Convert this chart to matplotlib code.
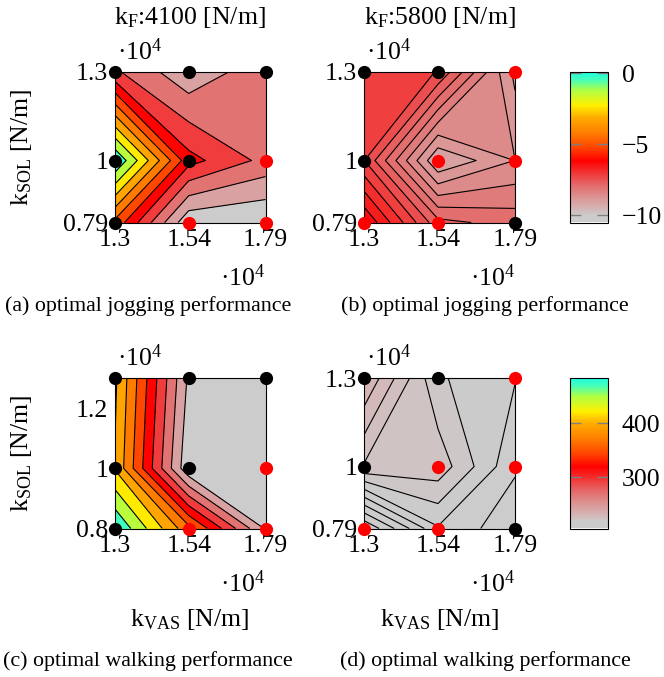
import numpy as np
import matplotlib
matplotlib.use("Agg")
import matplotlib.pyplot as plt
from matplotlib.colors import LinearSegmentedColormap, Normalize
from matplotlib.cm import ScalarMappable

plt.rcParams['font.family'] = ['Liberation Serif', 'DejaVu Serif']
plt.rcParams['mathtext.fontset'] = 'custom'
plt.rcParams['mathtext.rm'] = 'Liberation Serif'
plt.rcParams['mathtext.it'] = 'Liberation Serif:italic'
plt.rcParams['contour.negative_linestyle'] = 'solid'

# grid values (units of 1e4 N/m)
k_vas = [1.3, 1.54, 1.79]
k_sol = [0.79, 1.0, 1.3]
k_sol_c = [0.8, 1.0, 1.3]

# performance, rows = k_sol (bottom -> top), cols = k_vas
jog_4100 = [[-5.0, -10.3, -10.5],
            [0.1, -6.3, -7.9],
            [-7.45, -9.3, -7.9]]
jog_5800 = [[-6.2, -7.75, -7.95],
            [-7.28, -9.2, -8.65],
            [-7.1, -7.3, -9.0]]
walk_4100 = [[483, 365, 228],
             [405, 210, 205.5],
             [412, 226, 206]]
walk_5800 = [[205.6, 217.4, 213.5],
             [224.6, 224.0, 215.6],
             [232.1, 220.4, 217.8]]

# marker colours at the grid points (k = black, r = red)
dots_a = [['k', 'r', 'r'], ['k', 'k', 'r'], ['k', 'k', 'k']]
dots_b = [['r', 'r', 'k'], ['k', 'r', 'r'], ['k', 'k', 'r']]
dots_c = [['k', 'r', 'r'], ['k', 'k', 'r'], ['k', 'k', 'k']]
dots_d = [['r', 'r', 'k'], ['k', 'r', 'r'], ['k', 'k', 'r']]

cmap = LinearSegmentedColormap.from_list('perf', [
    (0.00, (204/255, 204/255, 204/255)),
    (0.045, (204/255, 204/255, 204/255)),
    (0.10, (214/255, 176/255, 176/255)),
    (0.15, (218/255, 155/255, 155/255)),
    (0.25, (228/255, 104/255, 104/255)),
    (0.33, (242/255, 52/255, 52/255)),
    (0.41, (1.0, 0.0, 0.0)),
    (0.50, (1.0, 70/255, 0.0)),
    (0.60, (1.0, 128/255, 0.0)),
    (0.70, (1.0, 172/255, 0.0)),
    (0.78, (1.0, 240/255, 0.0)),
    (0.88, (175/255, 1.0, 70/255)),
    (0.95, (70/255, 1.0, 185/255)),
    (1.00, (30/255, 1.0, 225/255))])

norm_top = Normalize(-10.5, 0.1)
norm_bot = Normalize(205.5, 483)

W, H = 664, 677
fig = plt.figure(figsize=(W/100, H/100), dpi=100)

def rect(x0, y0, x1, y1):
    return [x0/W, 1 - y1/H, (x1 - x0)/W, (y1 - y0)/H]

def txt(x, y, s, **kw):
    fig.text(x/W, 1 - y/H, s, **kw)

FS = 18.5
CFS = 15.8

def panel(r, ys, z, dots, norm, yticks, ylabels):
    ax = fig.add_axes(rect(*r))
    X, Y = np.meshgrid(k_vas, ys)
    Z = np.array(z, dtype=float)
    lv = np.linspace(Z.min(), Z.max(), 12)
    lv[0] -= 1e-6
    lv[-1] += 1e-6
    ax.contourf(X, Y, Z, levels=lv, cmap=cmap, norm=norm)
    ax.contour(X, Y, Z, levels=lv[1:-1], colors='k', linewidths=0.8,
               linestyles='solid')
    for i, yv in enumerate(ys):
        for j, xv in enumerate(k_vas):
            c = 'black' if dots[i][j] == 'k' else 'red'
            ax.plot(xv, yv, 'o', color=c, ms=9.5, mec='none', clip_on=False, zorder=6)
    ax.set_xlim(k_vas[0], k_vas[-1])
    ax.set_ylim(ys[0], ys[-1])
    ax.set_xticks(k_vas)
    ax.set_xticklabels(['1.3', '1.54', '1.79'])
    ax.set_yticks(yticks)
    ax.set_yticklabels(ylabels)
    ax.tick_params(length=0, labelsize=FS, pad=5)
    for s in ax.spines.values():
        s.set_linewidth(0.8)
    return ax

panel((115, 72, 265.5, 222.5), k_sol, jog_4100, dots_a, norm_top,
      [0.79, 1.0, 1.3], ['0.79', '1', '1.3'])
panel((364, 72, 515, 222.5), k_sol, jog_5800, dots_b, norm_top,
      [0.79, 1.0, 1.3], ['0.79', '1', '1.3'])
panel((115, 378, 265.5, 528.5), k_sol_c, walk_4100, dots_c, norm_bot,
      [0.8, 1.0, 1.2], ['0.8', '1', '1.2'])
panel((364, 378, 515, 528.5), k_sol, walk_5800, dots_d, norm_bot,
      [0.79, 1.0, 1.3], ['0.79', '1', '1.3'])

# colorbars
for r, norm, ticks in [((570, 72, 608, 222.5), norm_top, [-10, -5, 0]),
                       ((570, 378, 608, 528.5), norm_bot, [300, 400])]:
    cax = fig.add_axes(rect(*r))
    cb = fig.colorbar(ScalarMappable(norm=norm, cmap=cmap), cax=cax, ticks=ticks)
    cb.outline.set_linewidth(0.8)
    cax.tick_params(direction='in', left=True, right=True, length=8,
                    width=1, color='gray', labelsize=FS, pad=10)

# multipliers
for x0 in (117, 366):
    for y0 in (52, 358):
        txt(x0, y0, '·10$^{4}$', fontsize=FS, ha='left', va='center')
for x1 in (265, 515):
    for y0 in (278, 584):
        txt(x1, y0, '·10$^{4}$', fontsize=FS, ha='right', va='center')

# titles and axis labels
txt(190, 18, 'k$_{\\mathrm{F}}$:4100 [N/m]', fontsize=FS, ha='center', va='center')
txt(440, 18, 'k$_{\\mathrm{F}}$:5800 [N/m]', fontsize=FS, ha='center', va='center')
for yc in (147, 453):
    txt(22, yc, 'k$_{\\mathrm{SOL}}$ [N/m]', fontsize=FS, ha='center', va='center', rotation=90)
for xc in (190, 440):
    txt(xc, 620, 'k$_{\\mathrm{VAS}}$ [N/m]', fontsize=FS, ha='center', va='center')

# captions
txt(148, 306, '(a) optimal jogging performance', fontsize=CFS, ha='center', va='center')
txt(485, 306, '(b) optimal jogging performance', fontsize=CFS, ha='center', va='center')
txt(148, 661, '(c) optimal walking performance', fontsize=CFS, ha='center', va='center')
txt(485, 661, '(d) optimal walking performance', fontsize=CFS, ha='center', va='center')

fig.savefig('out.png', dpi=100)
